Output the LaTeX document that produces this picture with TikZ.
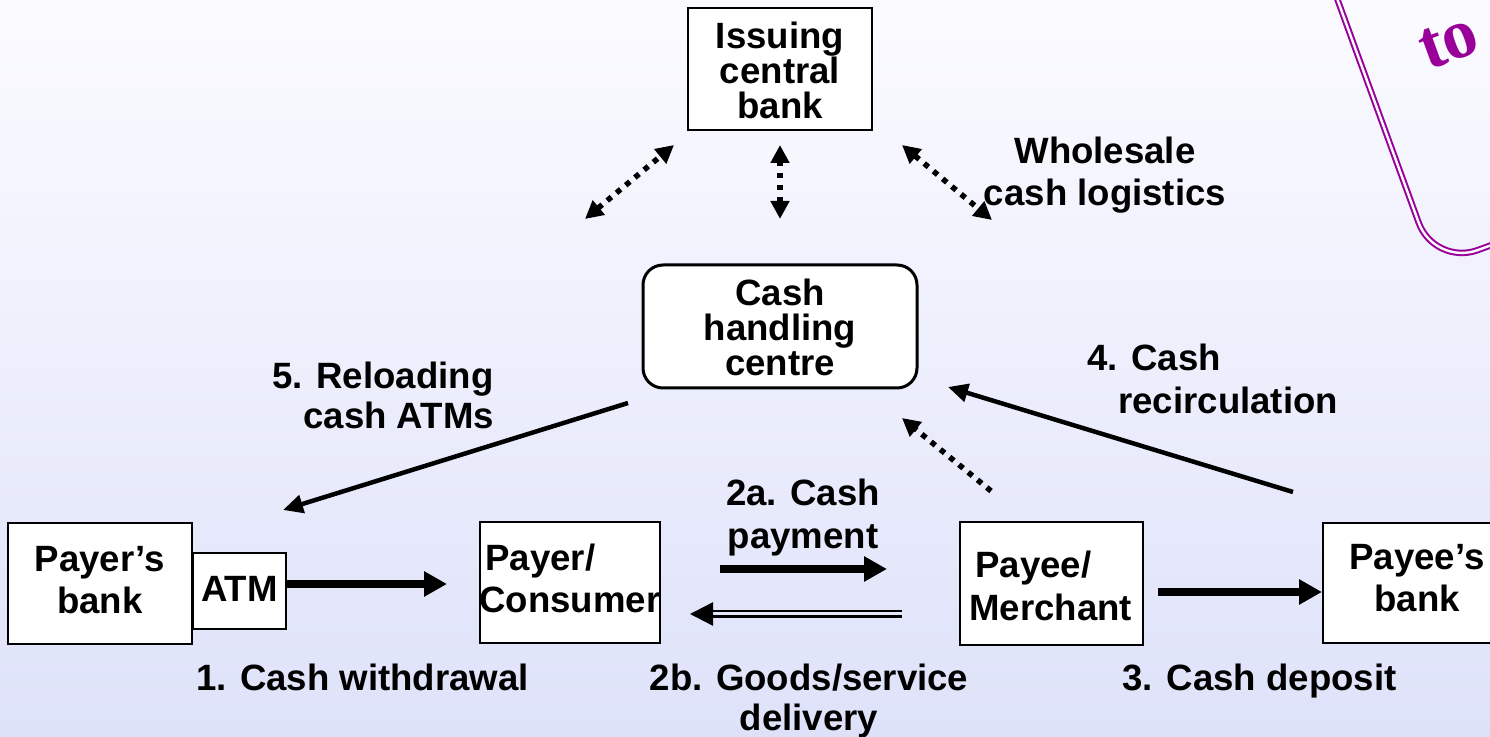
\documentclass[tikz,border=0pt]{standalone}
\usepackage{fontspec}
\setmainfont{Liberation Sans}
\newfontfamily\calloutfont{Liberation Serif}
\usetikzlibrary{arrows.meta,calc}

\definecolor{bgtop}{RGB}{251,251,255}
\definecolor{bgbot}{RGB}{222,226,249}
\definecolor{bgmid}{RGB}{228,231,250}
\definecolor{plum}{RGB}{153,0,153}

\tikzset{
  box/.style={draw=black, line width=1pt, fill=white, inner sep=0pt},
  roundbox/.style={draw=black, line width=1.5pt, fill=white, inner sep=0pt, rounded corners=10pt},
  txt/.style={font=\fontsize{18.3pt}{21pt}\selectfont\bfseries, inner sep=0pt, align=center},
  tight/.style={font=\fontsize{18.3pt}{17.5pt}\selectfont\bfseries},
  flowarrow/.style={line width=4pt, -{Triangle[length=11.5pt,width=12pt]}},
  slantarrow/.style={line width=2.25pt, -{Triangle[length=10pt,width=9pt]}},
  linkarrow/.style={line width=2.75pt, dash pattern=on 2.75pt off 3.25pt,
    -{Triangle[length=9pt,width=9pt]}},
  twoway/.style={linkarrow, {Triangle[length=9pt,width=9pt]}-{Triangle[length=9pt,width=9pt]}},
  returnarrow/.style={line width=1.25pt, double=bgmid, double distance=1.5pt,
    -{Triangle[length=11.5pt,width=11.5pt]}},
  callout/.style={draw=plum, line width=1pt, double=bgtop, double distance=1.2pt}
}

\begin{document}
\begin{tikzpicture}[x=0.5pt,y=-0.5pt]
  \useasboundingbox (0,0) rectangle (1490,737);
  \fill[top color=bgtop, bottom color=bgbot] (0,0) rectangle (1490,737);

  % tilted note in the corner
  \begin{scope}[shift={(1432,271)}, rotate=20]
    \draw[callout, rounded corners=23pt] (4,-340) rectangle (330,-4);
    \node[font=\calloutfont\bfseries\fontsize{35pt}{40pt}\selectfont, text=plum,
      inner sep=0pt, rotate=20] (noteword) at (94,-209) {to};
  \end{scope}

  % boxes
  \node[box, minimum width=92pt, minimum height=61pt] (cb) at (780,69) {};
  \node[roundbox, minimum width=137pt, minimum height=61.5pt] (chc) at (780,326.5) {};
  \node[box, minimum width=92pt, minimum height=60.5pt] (pbank) at (100,583.5) {};
  \node[box, minimum width=46.5pt, minimum height=38pt] (atm) at (239.5,591) {};
  \node[box, minimum width=90pt, minimum height=60.5pt] (payer) at (570,582.5) {};
  \node[box, minimum width=91.5pt, minimum height=61.5pt] (payee) at (1051.5,583.5) {};
  \node[box, minimum width=93pt, minimum height=60pt] (eebank) at (1416,583) {};

  % box texts
  \node[txt, tight, anchor=north] (cbtxt) at (780,22) {Issuing\\central\\bank};
  \node[txt, tight, anchor=north] (chctxt) at (780,279) {Cash\\handling\\centre};
  \node[txt, anchor=north] (pbanktxt) at (100,546) {Payer’s\\bank};
  \node[txt, anchor=base] (atmtxt) at (239.5,602) {ATM};
  \node[txt, align=left, anchor=north west] (payertxt) at (479,544) {\hspace*{3pt}Payer/\\Consumer};
  \node[txt, align=left, anchor=north west, font=\fontsize{18.3pt}{21.5pt}\selectfont\bfseries]
    (payeetxt) at (969,551) {\hspace*{3pt}Payee/\\Merchant};
  \node[txt, anchor=north] (eebanktxt) at (1417,544) {Payee’s\\bank};

  % flow labels
  \node[txt, anchor=north] (wholesale) at (1105,137) {Wholesale\\cash logistics};
  \node[txt, align=left, anchor=north west, font=\fontsize{18.3pt}{20pt}\selectfont\bfseries]
    (reload) at (272,362) {5. Reloading\\\hspace*{15.5pt}cash ATMs};
  \node[txt, align=left, anchor=north west, font=\fontsize{18.3pt}{21.5pt}\selectfont\bfseries]
    (recirc) at (1087,344) {4. Cash\\\hspace*{15.5pt}recirculation};
  \node[txt, anchor=north, font=\fontsize{18.3pt}{21.5pt}\selectfont\bfseries]
    (paylbl) at (803,479) {2a. Cash\\payment};
  \node[txt, anchor=base] (withdraw) at (362.5,690) {1. Cash withdrawal};
  \node[txt, anchor=north, font=\fontsize{18.3pt}{20pt}\selectfont\bfseries]
    (goods) at (809,664) {2b. Goods/service\\delivery};
  \node[txt, anchor=base] (deposit) at (1259.5,690) {3. Cash deposit};

  % connector end points
  \coordinate (atmout) at ($(atm.east)+(0,-7)$);
  \coordinate (payerin) at (447,584);
  \coordinate (payfrom) at (720,569);
  \coordinate (payto) at (887,569);
  \coordinate (goodsfrom) at (902,614);
  \coordinate (goodsto) at (690,614);
  \coordinate (depfrom) at (1158,592);
  \coordinate (recfrom) at (1293,492);
  \coordinate (recto) at (948,387);
  \coordinate (relfrom) at (628,403);
  \coordinate (relto) at (283,510);
  \coordinate (merchfrom) at (991,491);
  \coordinate (merchto) at (902,418);
  \coordinate (wlA) at (585,219);
  \coordinate (wlB) at (674,145);
  \coordinate (wmA) at (780,219);
  \coordinate (wmB) at (780,145);
  \coordinate (wrA) at (902,145);
  \coordinate (wrB) at (992,220);

  % connectors
  \draw[flowarrow] (atmout) -- (payerin);
  \draw[flowarrow] (payfrom) -- (payto);
  \draw[returnarrow] (goodsfrom) -- (goodsto);
  \draw[flowarrow] (depfrom) -- (depfrom -| eebank.west);
  \draw[slantarrow] (recfrom) -- (recto);
  \draw[slantarrow] (relfrom) -- (relto);
  \draw[linkarrow] (merchfrom) -- (merchto);
  \draw[twoway] (wlA) -- (wlB);
  \draw[twoway] (wmA) -- (wmB);
  \draw[twoway] (wrA) -- (wrB);
\end{tikzpicture}
\end{document}
